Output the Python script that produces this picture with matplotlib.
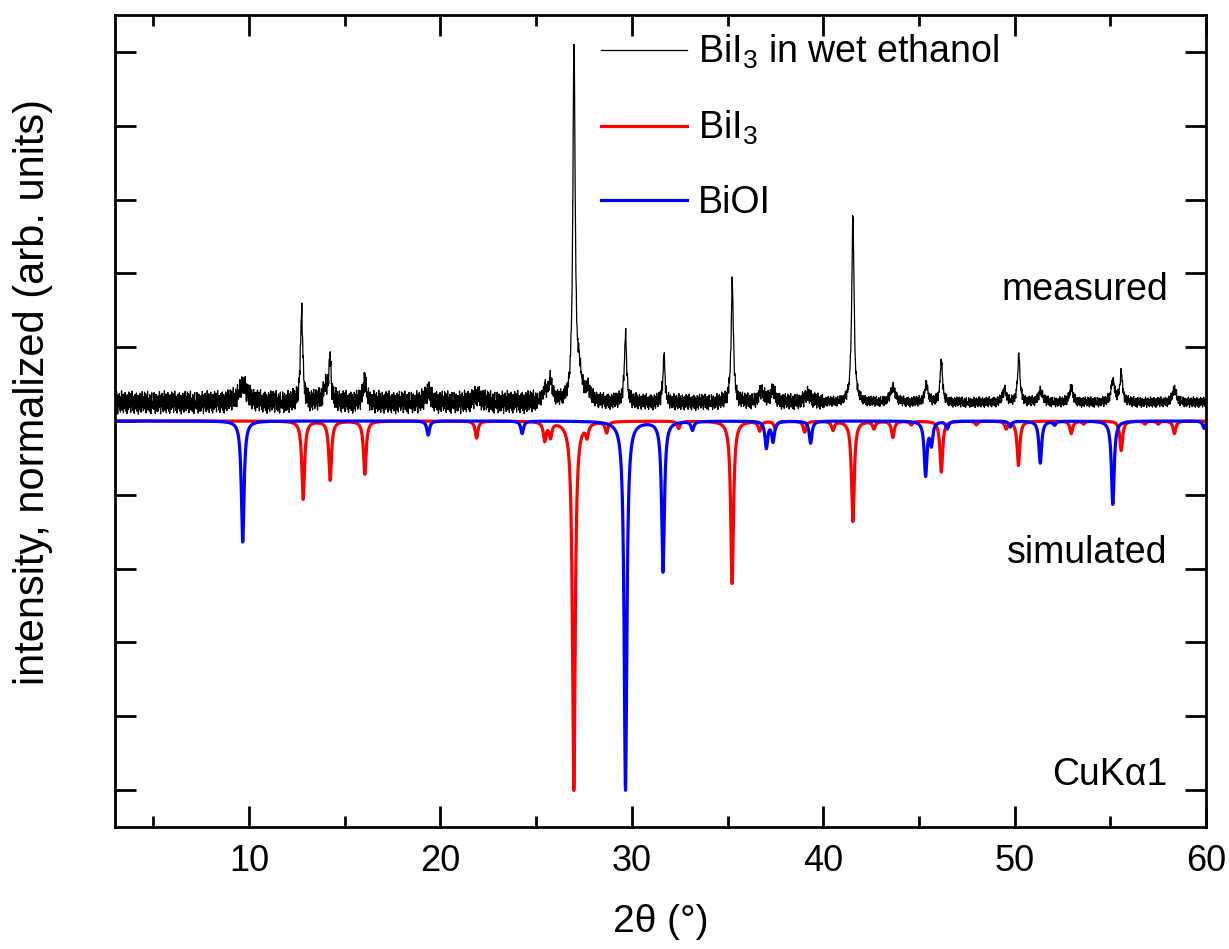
import numpy as np
import matplotlib
matplotlib.use("Agg")
import matplotlib.pyplot as plt

plt.rcParams['font.family'] = ['Liberation Sans', 'DejaVu Sans']
plt.rcParams['mathtext.fontset'] = 'custom'
plt.rcParams['mathtext.rm'] = 'Liberation Sans'

# measured pattern: peak positions (deg), heights above background, half widths
meas_pos = [9.68, 12.75, 14.0, 14.23, 16.05, 19.35, 21.95, 25.45, 25.75, 26.98, 27.25, 27.7,
            29.67, 31.68, 35.25, 36.77, 37.37, 39.2, 41.55, 43.64, 45.39, 46.17, 49.48,
            50.22, 51.35, 52.95, 55.13, 55.57, 58.35]
meas_int = [0.25, 1.25, 0.20, 0.55, 0.33, 0.15, 0.10, 0.15, 0.28, 4.8, 0.35, 0.15,
            0.92, 0.66, 1.62, 0.15, 0.15, 0.10, 2.55, 0.20, 0.25, 0.58, 0.16,
            0.65, 0.16, 0.21, 0.30, 0.40, 0.18]
meas_wid = [0.25, 0.07, 0.15, 0.07, 0.09, 0.15, 0.2, 0.12, 0.12, 0.07, 0.15, 0.15,
            0.07, 0.06, 0.07, 0.15, 0.15, 0.2, 0.07, 0.15, 0.10, 0.07, 0.12,
            0.07, 0.12, 0.10, 0.10, 0.08, 0.12]
meas_bg = 0.25
# background noise levels for 3-25, 25-40, 40-60 deg
noise_edges = [25, 40]
noise_amp = [0.16, 0.115, 0.075]
noise_vals = [0.31, -0.72, 0.55, -0.12, 0.93, -0.44, 0.08, -0.97, 0.62, 0.21,
              -0.35, 0.77, -0.58, 0.14, -0.81, 0.46, -0.05, 0.99, -0.66, 0.27,
              -0.19, 0.71, -0.88, 0.39, 0.02, -0.52, 0.84, -0.29, 0.57, -0.76,
              0.18, -0.93, 0.65, -0.08, 0.42, -0.61, 0.89, -0.24, 0.11, -0.47,
              0.73, -0.85, 0.33, -0.15, 0.96, -0.38, 0.05, -0.69, 0.52, -0.01,
              -0.91, 0.26, 0.68, -0.55, 0.13, -0.32, 0.81, -0.74, 0.47, -0.09,
              0.59, -0.99, 0.36, 0.22, -0.63, 0.78, -0.27, 0.04, -0.83, 0.61,
              -0.41, 0.92, -0.17, 0.29, -0.71, 0.49, -0.56, 0.87, -0.04, -0.36,
              0.74, -0.89, 0.16, 0.58, -0.23, 0.95, -0.65, 0.09, -0.48, 0.37,
              -0.79, 0.66, -0.13, 0.44, -0.95, 0.25, 0.82, -0.51, 0.07, -0.3,
              0.12, -0.58, 0.83, -0.21, 0.47, -0.92, 0.35, 0.69, -0.4, 0.03,
              -0.77, 0.54]

# simulated patterns (CuKa1), plotted downwards
bii3_pos = [12.83, 14.24, 16.05, 21.89, 25.45, 25.75, 26.97, 27.66, 28.68, 32.45, 35.24,
            36.68, 37.5, 39.03, 40.51, 41.55, 42.65, 43.64, 44.6, 46.17, 48.0, 49.56,
            50.2, 52.96, 53.6, 55.57, 56.8, 57.5, 58.35]
bii3_int = [1.06, 0.80, 0.72, 0.23, 0.25, 0.20, 5.0, 0.17, 0.15, 0.10, 2.2,
            0.13, 0.10, 0.15, 0.12, 1.36, 0.10, 0.22, 0.05, 0.69, 0.05, 0.10,
            0.60, 0.17, 0.04, 0.40, 0.04, 0.04, 0.17]
bioi_pos = [9.67, 19.36, 24.27, 29.67, 31.63, 33.17, 37.03, 37.38, 39.34, 45.35, 45.65,
            46.48, 49.77, 51.34, 52.09, 55.13, 59.9]
bioi_int = [1.64, 0.19, 0.17, 5.0, 2.04, 0.12, 0.36, 0.27, 0.30, 0.73, 0.30,
            0.10, 0.08, 0.57, 0.05, 1.13, 0.10]
sim_wid = 0.085


def lorentz(x, pos, amp, wid):
    y = np.zeros_like(x)
    for p, a, w in zip(pos, amp, wid):
        y += a / (1 + ((x - p) / w) ** 2)
    return y


x_meas = np.arange(3.0, 60.0001, 0.02)
amp = np.array(noise_amp)[np.digitize(x_meas, noise_edges)]
noise = np.resize(np.array(noise_vals), x_meas.size) * amp
y_meas = meas_bg + lorentz(x_meas, meas_pos, meas_int, meas_wid) + noise

x_sim = np.arange(3.0, 60.0001, 0.005)
y_bii3 = -lorentz(x_sim, bii3_pos, bii3_int, [sim_wid] * len(bii3_pos))
y_bioi = -lorentz(x_sim, bioi_pos, bioi_int, [sim_wid] * len(bioi_pos))

fig = plt.figure(figsize=(12.29, 9.49), dpi=100)
ax = fig.add_axes([0.0936, 0.1286, 0.8877, 0.8556])

ax.plot(x_meas, y_meas, color='black', lw=0.9, label='BiI$_3$ in wet ethanol')
ax.plot(x_sim, y_bii3, color='#ff0000', lw=2.3, label='BiI$_3$')
ax.plot(x_sim, y_bioi, color='#0000ff', lw=2.3, label='BiOI')

ax.set_xlim(3, 60)
ax.set_ylim(-5.5, 5.5)
ax.set_xticks([10, 20, 30, 40, 50, 60])
ax.set_xticks([5, 15, 25, 35, 45, 55], minor=True)
ax.set_yticks(np.arange(-5, 6, 1))
ax.set_yticklabels([])
ax.tick_params(which='both', direction='in', top=True, right=True, width=2, labelsize=26, pad=12)
ax.tick_params(which='major', length=15)
ax.tick_params(which='minor', length=8)
for s in ax.spines.values():
    s.set_linewidth(2)

ax.set_xlabel('2θ (°)', fontsize=28, labelpad=18)
ax.set_ylabel('intensity, normalized (arb. units)', fontsize=30)
ax.yaxis.set_label_coords(-0.057, 0.536)

ax.text(58.0, 1.78, 'measured', fontsize=27, ha='right', va='center')
ax.text(58.0, -1.79, 'simulated', fontsize=27, ha='right', va='center')
ax.text(58.0, -4.8, 'CuKα1', fontsize=27, ha='right', va='center')

ax.legend(loc='upper left', bbox_to_anchor=(0.421, 1.01), frameon=False, fontsize=27,
          handlelength=2.3, handletextpad=0.3, labelspacing=1.0, borderpad=0.2)

fig.savefig('out.png', dpi=100)
